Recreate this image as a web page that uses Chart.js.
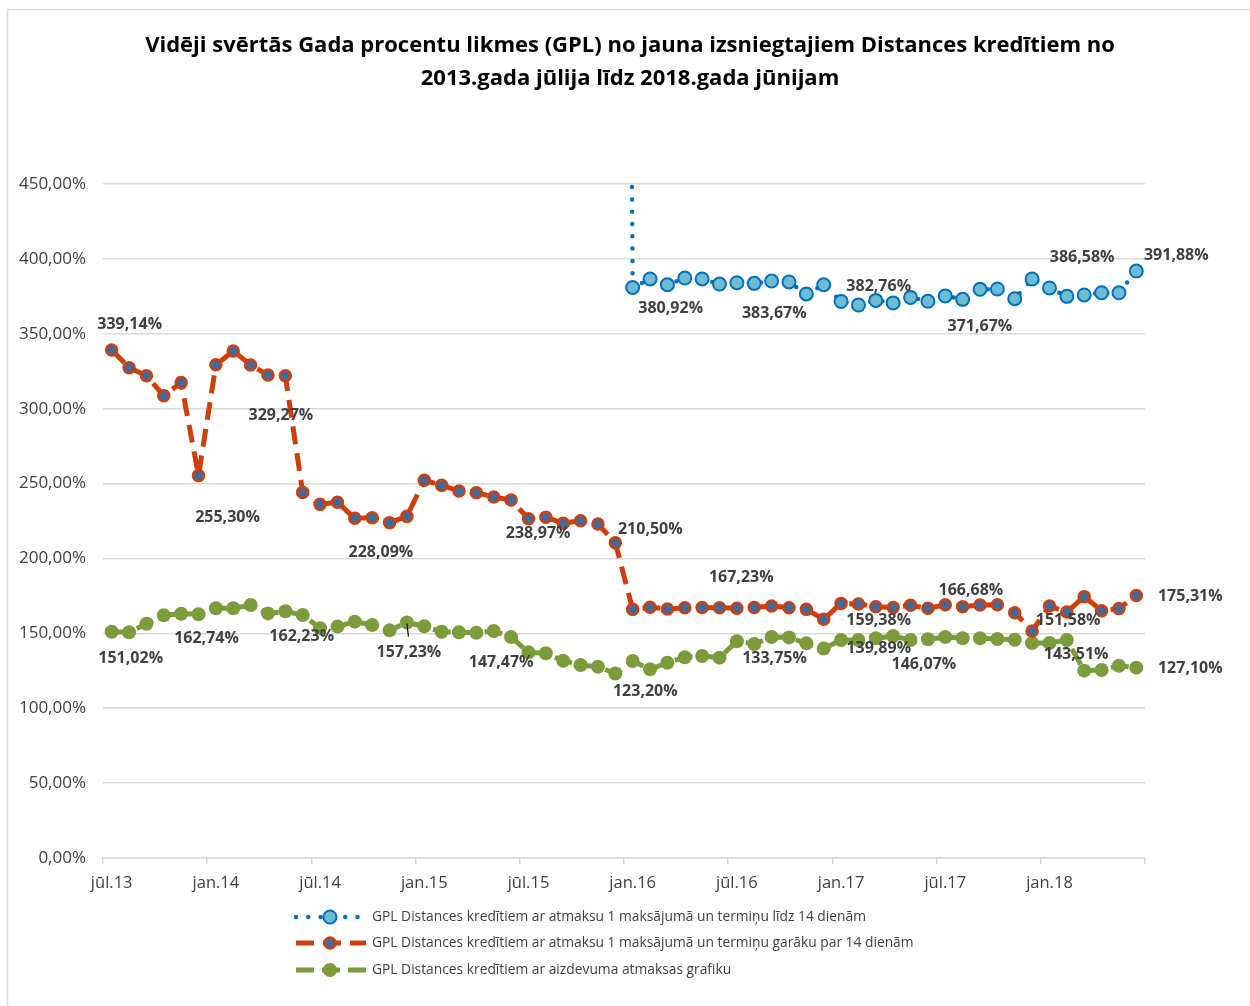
<!DOCTYPE html>
<html>
<head>
<meta charset="utf-8">
<script src="https://cdn.jsdelivr.net/npm/chart.js@4.4.0/dist/chart.umd.min.js"></script>
<style>
html,body{margin:0;padding:0;background:#fff;}
#wrap{width:1250px;height:1006px;position:relative;}
</style>
</head>
<body>
<div id="wrap"><canvas id="c" width="1250" height="1006"></canvas></div>
<script>
const categories = [
 "jūl.13","aug.13","sep.13","okt.13","nov.13","dec.13",
 "jan.14","feb.14","mar.14","apr.14","mai.14","jūn.14",
 "jūl.14","aug.14","sep.14","okt.14","nov.14","dec.14",
 "jan.15","feb.15","mar.15","apr.15","mai.15","jūn.15",
 "jūl.15","aug.15","sep.15","okt.15","nov.15","dec.15",
 "jan.16","feb.16","mar.16","apr.16","mai.16","jūn.16",
 "jūl.16","aug.16","sep.16","okt.16","nov.16","dec.16",
 "jan.17","feb.17","mar.17","apr.17","mai.17","jūn.17",
 "jūl.17","aug.17","sep.17","okt.17","nov.17","dec.17",
 "jan.18","feb.18","mar.18","apr.18","mai.18","jūn.18"
];
const seriesNames = [
 "GPL Distances kredītiem ar atmaksu 1 maksājumā un termiņu līdz 14 dienām",
 "GPL Distances kredītiem ar atmaksu 1 maksājumā un termiņu garāku par 14 dienām",
 "GPL Distances kredītiem ar aizdevuma atmaksas grafiku"
];
const shortTerm = [
 null,null,null,null,null,null,null,null,null,null,
 null,null,null,null,null,null,null,null,null,null,
 null,null,null,null,null,null,null,null,null,2000,
 380.92,386.6,382.8,387.2,386.6,383.2,384.1,383.67,385.2,384.6,
 376.6,382.76,371.6,369.2,372.3,370.6,374.3,371.67,375.3,373.0,
 379.7,379.9,373.4,386.58,380.6,375.0,375.9,377.4,377.4,391.88
];
const longTerm = [
 339.14,327.4,322.0,308.7,317.4,255.30,329.27,338.5,329.2,322.5,
 322.0,244.1,236.1,237.5,226.8,227.2,223.9,228.09,252.2,248.8,
 245.0,243.9,241.0,238.97,226.5,227.5,223.5,225.2,223.0,210.50,
 166.0,167.4,166.2,167.1,167.3,167.1,166.8,167.23,168.2,167.1,
 166.0,159.38,170.0,169.6,167.8,167.3,168.7,166.68,169.1,167.8,
 168.9,169.1,163.8,151.58,168.2,164.2,174.5,165.1,166.5,175.31
];
const schedule = [
 151.02,150.7,156.4,162.0,163.1,162.74,166.7,166.7,168.9,163.3,
 164.7,162.23,153.4,154.5,157.8,155.6,152.0,157.23,154.7,151.1,
 150.7,150.4,151.6,147.47,137.3,136.7,131.7,128.9,127.7,123.20,
 131.5,126.0,130.4,134.0,134.9,133.75,144.7,142.9,147.6,147.3,
 143.3,139.89,145.5,145.5,146.7,148.2,145.5,146.07,147.6,146.7,
 146.7,146.2,145.7,143.51,143.5,145.5,125.1,125.5,128.4,127.10
];
const yTicks = [0,50,100,150,200,250,300,350,400,450];
const titleLines = [
 "Vidēji svērtās Gada procentu likmes (GPL) no jauna izsniegtajiem Distances kredītiem no",
 "2013.gada jūlija līdz 2018.gada jūnijam"
];
// which points carry a data label (dataset index, point index) and where the label sits relative to it
const labelledPoints = [
 {d:1,i:0,dx:18,dy:-26},{d:1,i:5,dx:29,dy:42},{d:1,i:6,dx:65,dy:51},{d:1,i:17,dx:-26,dy:36},
 {d:1,i:23,dx:27,dy:33},{d:1,i:29,dx:35,dy:-13},{d:1,i:37,dx:-13,dy:-30},{d:1,i:41,dx:55,dy:1},
 {d:1,i:47,dx:43,dy:-18},{d:1,i:53,dx:36,dy:-11},{d:1,i:59,dx:54,dy:1},
 {d:0,i:30,dx:38,dy:21},{d:0,i:37,dx:20,dy:30},{d:0,i:41,dx:55,dy:2},{d:0,i:47,dx:52,dy:25},
 {d:0,i:53,dx:50,dy:-22},{d:0,i:59,dx:40,dy:-16},
 {d:2,i:0,dx:19,dy:27},{d:2,i:5,dx:8,dy:24},{d:2,i:11,dx:-1,dy:21},{d:2,i:17,dx:2,dy:30,leader:true},
 {d:2,i:23,dx:-10,dy:25},{d:2,i:29,dx:30,dy:18},{d:2,i:35,dx:55,dy:1},{d:2,i:41,dx:55,dy:0},
 {d:2,i:47,dx:-4,dy:25},{d:2,i:53,dx:44,dy:11},{d:2,i:59,dx:54,dy:1}
];

const FONT = "'Open Sans', 'DejaVu Sans', sans-serif";
const fmt = v => v.toFixed(2).replace('.', ',') + '%';

const framePlugin = {
  id:'frame',
  beforeDraw(chart){
    const ctx = chart.ctx;
    ctx.save();
    ctx.fillStyle = '#ffffff';
    ctx.fillRect(0,0,chart.width,chart.height);
    ctx.strokeStyle = '#d9d9d9';
    ctx.lineWidth = 1.5;
    ctx.strokeRect(7.5, 9.5, 1300, 1100);
    ctx.fillStyle = '#000000';
    ctx.font = "bold 22px " + FONT;
    ctx.textAlign = 'center';
    ctx.textBaseline = 'middle';
    ctx.fillText(titleLines[0], 630, 46);
    ctx.fillText(titleLines[1], 630, 79);
    ctx.restore();
  }
};

const labelPlugin = {
  id:'pointLabels',
  afterDatasetsDraw(chart){
    const ctx = chart.ctx;
    ctx.save();
    ctx.font = "bold 16px " + FONT;
    ctx.fillStyle = '#404040';
    ctx.textAlign = 'center';
    ctx.textBaseline = 'middle';
    labelledPoints.forEach(l => {
      const pt = chart.getDatasetMeta(l.d).data[l.i];
      const v = chart.data.datasets[l.d].data[l.i];
      if (l.leader){
        ctx.save();
        ctx.strokeStyle = '#000';
        ctx.lineWidth = 1.2;
        ctx.beginPath();
        ctx.moveTo(pt.x, pt.y + 1);
        ctx.lineTo(pt.x + 1.5, pt.y + 14);
        ctx.stroke();
        ctx.restore();
      }
      ctx.fillText(fmt(v), pt.x + l.dx, pt.y + l.dy);
    });
    ctx.restore();
  }
};

const legendPlugin = {
  id:'customLegend',
  afterDraw(chart){
    const ctx = chart.ctx;
    const rows = [917, 943, 970];
    ctx.save();
    chart.data.datasets.forEach((ds, k) => {
      const y = rows[k];
      ctx.save();
      ctx.strokeStyle = ds.borderColor;
      ctx.lineWidth = ds.borderWidth;
      ctx.lineCap = ds.borderCapStyle || 'butt';
      ctx.setLineDash(ds.borderDash || []);
      ctx.beginPath();
      ctx.moveTo(296, y);
      ctx.lineTo(366, y);
      ctx.stroke();
      ctx.setLineDash([]);
      ctx.beginPath();
      ctx.arc(330, y, ds.pointRadius, 0, Math.PI*2);
      ctx.fillStyle = ds.pointBackgroundColor;
      ctx.fill();
      if (ds.pointBorderWidth > 0){
        ctx.lineWidth = ds.pointBorderWidth;
        ctx.strokeStyle = ds.pointBorderColor;
        ctx.stroke();
      }
      ctx.restore();
      ctx.font = "13.8px " + FONT;
      ctx.fillStyle = '#404040';
      ctx.textAlign = 'left';
      ctx.textBaseline = 'middle';
      ctx.fillText(ds.label, 372, y);
    });
    ctx.restore();
  }
};

new Chart(document.getElementById('c'), {
  type:'line',
  data:{
    labels: categories,
    datasets:[
      {label: seriesNames[0], data: shortTerm, borderColor:'#0070C0', borderWidth:4.5,
       borderDash:[0,12.3], borderCapStyle:'round', pointRadius:6.5, pointBorderWidth:2,
       pointBackgroundColor:'#6FBBD2', pointBorderColor:'#0070C0', tension:0, spanGaps:false},
      {label: seriesNames[1], data: longTerm, borderColor:'#CF3E0B', borderWidth:5,
       borderDash:[18,9], borderCapStyle:'butt', pointRadius:5.5, pointBorderWidth:2.5,
       pointBackgroundColor:'#3F6A9E', pointBorderColor:'#CF3E0B', tension:0},
      {label: seriesNames[2], data: schedule, borderColor:'#7C9C3C', borderWidth:5,
       borderDash:[18,8], borderCapStyle:'butt', pointRadius:7, pointBorderWidth:0,
       pointBackgroundColor:'#7C9C3C', pointBorderColor:'#7C9C3C', tension:0}
    ]
  },
  options:{
    responsive:false,
    animation:false,
    events:[],
    layout:{padding:{top:184, left:0, right:105, bottom:108}},
    plugins:{legend:{display:false}, title:{display:false}, tooltip:{enabled:false}},
    scales:{
      x:{
        type:'category',
        offset:true,
        afterFit(s){ s.height = 40; },
        grid:{offset:true, drawOnChartArea:false, drawTicks:true, tickLength:6, lineWidth:1.5,
          color: c => (c.type !== 'tick' || c.index % 6 === 0) ? '#d9d9d9' : 'rgba(0,0,0,0)'},
        border:{display:true, color:'#d9d9d9', width:1.5},
        ticks:{autoSkip:false, maxRotation:0, minRotation:0, padding:9, color:'#404040',
          font:{family:FONT, size:16.5},
          callback:(v, i) => i % 6 === 0 ? categories[i] : ''}
      },
      y:{
        min:0, max:450,
        afterFit(s){ s.width = 103; },
        afterBuildTicks(s){ s.ticks = yTicks.map(v => ({value:v})); },
        grid:{drawTicks:false, color:'#d9d9d9', lineWidth:1.5},
        border:{display:false},
        ticks:{padding:17, color:'#404040', font:{family:FONT, size:17},
          callback: v => v.toFixed(2).replace('.', ',') + '%'}
      }
    }
  },
  plugins:[framePlugin, labelPlugin, legendPlugin]
});
</script>
</body>
</html>
